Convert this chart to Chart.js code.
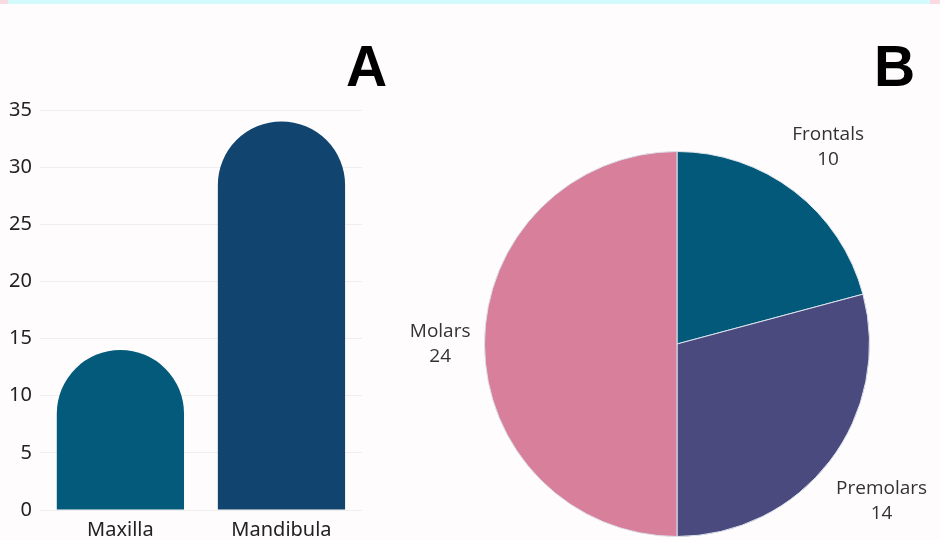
<!DOCTYPE html>
<html>
<head>
<meta charset="utf-8">
<script src="https://cdn.jsdelivr.net/npm/chart.js@4.4.1/dist/chart.umd.min.js"></script>
<style>
  html, body { margin: 0; padding: 0; }
  body { width: 940px; height: 540px; position: relative; overflow: hidden; background: #fefcfd; }
  #strip { position: absolute; left: 0; top: 0; width: 940px; height: 4px; background: #d3fbfc; }
  #strip .l { position: absolute; left: 0; top: 0; width: 8px; height: 4px; background: #fbd9e0; }
  #strip .r { position: absolute; right: 0; top: 0; width: 10px; height: 4px; background: #fbd9e0; }
  .title { position: absolute; font-family: "Liberation Sans", Arial, sans-serif; font-weight: 900; font-size: 57px; line-height: 57px; color: #000; }
  #tA { left: 346px; top: 38px; }
  #tB { left: 874px; top: 38px; }
  #barWrap { position: absolute; left: 0; top: 90px; width: 375px; height: 457px; }
  #pieWrap { position: absolute; left: 380px; top: 100px; width: 560px; height: 440px; }
</style>
</head>
<body>
<div id="strip"><div class="l"></div><div class="r"></div></div>
<div class="title" id="tA">A</div>
<div class="title" id="tB">B</div>
<div id="barWrap"><canvas id="bar" width="375" height="457"></canvas></div>
<div id="pieWrap"><canvas id="pie" width="560" height="440"></canvas></div>
<script>
// ---- data ----
const jawCategories = ["Maxilla", "Mandibula"];
const jawValues = [14, 34];
const jawColors = ["#035a7b", "#11446f"];
const yTickValues = [0, 5, 10, 15, 20, 25, 30, 35];

const toothCategories = ["Frontals", "Premolars", "Molars"];
const toothValues = [10, 14, 24];
const toothColors = ["#03597a", "#4b4a7e", "#d87f9b"];

// ---- bar chart A ----
new Chart(document.getElementById("bar"), {
  type: "bar",
  data: {
    labels: jawCategories,
    datasets: [{
      data: jawValues,
      backgroundColor: jawColors,
      borderWidth: 0,
      borderSkipped: "bottom",
      borderRadius: { topLeft: 64, topRight: 64, bottomLeft: 0, bottomRight: 0 },
      barPercentage: 0.79,
      categoryPercentage: 1.0
    }]
  },
  options: {
    responsive: false,
    animation: false,
    layout: { padding: { left: 1, right: 13, top: 5, bottom: 5 } },
    plugins: { legend: { display: false }, tooltip: { enabled: false }, title: { display: false } },
    scales: {
      x: {
        grid: { display: false },
        border: { display: false },
        ticks: { color: "#222", padding: 0, font: { family: "Noto Sans", size: 20 } }
      },
      y: {
        min: 0, max: 35,
        afterBuildTicks: (axis) => { axis.ticks = yTickValues.map(v => ({ value: v })); },
        grid: { color: "#f1eeee", drawTicks: false, lineWidth: 1 },
        border: { display: false },
        ticks: { color: "#222", padding: 8, font: { family: "Noto Sans", size: 20 } }
      }
    }
  }
});

// ---- pie chart B ----
const pieLabels = {
  id: "pieLabels",
  afterDraw(chart) {
    const ctx = chart.ctx;
    const meta = chart.getDatasetMeta(0);
    ctx.save();
    ctx.font = "19px 'Open Sans'";
    ctx.fillStyle = "#333";
    ctx.textAlign = "center";
    ctx.textBaseline = "middle";
    const lh = 25;
    meta.data.forEach((arc, i) => {
      const p = arc.getProps(["x", "y", "startAngle", "endAngle", "outerRadius"], true);
      const mid = (p.startAngle + p.endAngle) / 2;
      const lines = [chart.data.labels[i], String(chart.data.datasets[0].data[i])];
      const w = Math.max(...lines.map(t => ctx.measureText(t).width));
      const hw = w / 2, hh = lh * lines.length / 2;
      const cx = Math.cos(mid), cy = Math.sin(mid);
      const d = p.outerRadius + 14 + hw * Math.abs(cx) + hh * Math.abs(cy);
      const x = p.x + cx * d, y = p.y + cy * d;
      lines.forEach((t, k) => ctx.fillText(t, x, y - hh + lh / 2 + k * lh));
    });
    ctx.restore();
  }
};

new Chart(document.getElementById("pie"), {
  type: "pie",
  data: {
    labels: toothCategories,
    datasets: [{
      data: toothValues,
      backgroundColor: toothColors,
      borderColor: "#dbe3ec",
      borderWidth: 1
    }]
  },
  options: {
    responsive: false,
    animation: false,
    layout: { padding: { left: 104, right: 70, top: 51, bottom: 3 } },
    plugins: { legend: { display: false }, tooltip: { enabled: false } }
  },
  plugins: [pieLabels]
});
</script>
</body>
</html>
